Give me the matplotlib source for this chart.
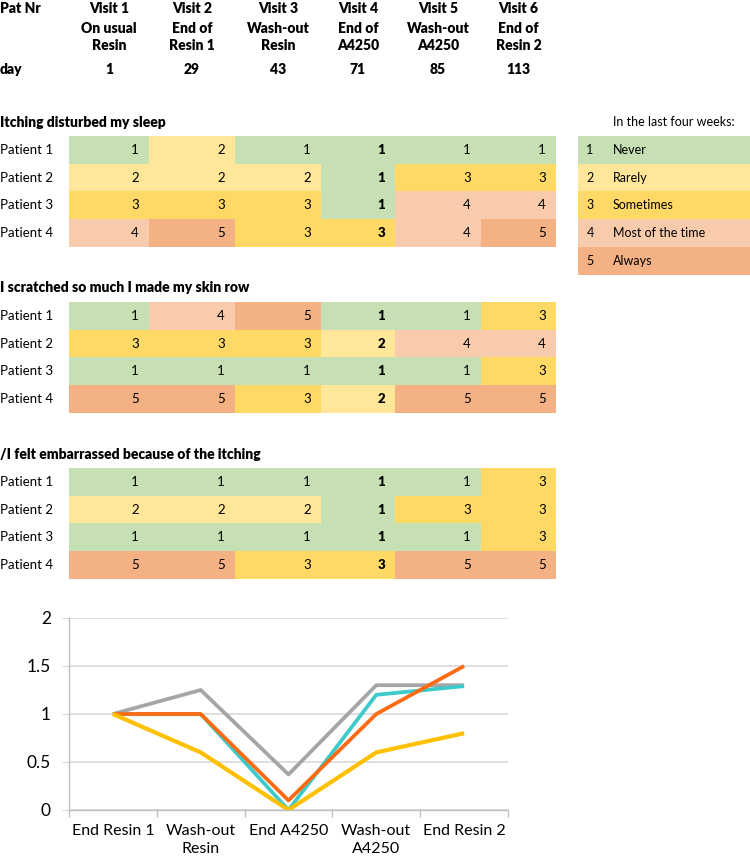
import numpy as np
import matplotlib
matplotlib.use("Agg")
import matplotlib.pyplot as plt
from matplotlib.colors import ListedColormap

plt.rcParams['font.family'] = ['Lato', 'DejaVu Sans']

# ---------------- data ----------------
visits = ["Visit 1", "Visit 2", "Visit 3", "Visit 4", "Visit 5", "Visit 6"]
phases = ["On usual\nResin", "End of\nResin 1", "Wash-out\nResin", "End of\nA4250", "Wash-out\nA4250", "End of\nResin 2"]
days = [1, 29, 43, 71, 85, 113]
patients = ["Patient 1", "Patient 2", "Patient 3", "Patient 4"]

q_titles = ["Itching disturbed my sleep",
            "I scratched so much I made my skin row",
            "/I felt embarrassed because of the itching"]
sleep = [[1, 2, 1, 1, 1, 1],
         [2, 2, 2, 1, 3, 3],
         [3, 3, 3, 1, 4, 4],
         [4, 5, 3, 3, 4, 5]]
scratch = [[1, 4, 5, 1, 1, 3],
           [3, 3, 3, 2, 4, 4],
           [1, 1, 1, 1, 1, 3],
           [5, 5, 3, 2, 5, 5]]
embarrassed = [[1, 1, 1, 1, 1, 3],
               [2, 2, 2, 1, 3, 3],
               [1, 1, 1, 1, 1, 3],
               [5, 5, 3, 3, 5, 5]]

legend_title = "In the last four weeks:"
scale_values = [1, 2, 3, 4, 5]
scale_labels = ["Never", "Rarely", "Sometimes", "Most of the time", "Always"]

chart_categories = ["End Resin 1", "Wash-out\nResin", "End A4250", "Wash-out\nA4250", "End Resin 2"]
series_gray = [1.0, 1.25, 0.37, 1.3, 1.3]
series_cyan = [1.0, 1.0, 0.0, 1.2, 1.29]
series_orange = [1.0, 1.0, 0.1, 1.0, 1.5]
series_yellow = [1.0, 0.6, 0.0, 0.6, 0.8]

# ---------------- styles / layout ----------------
scale_colors = ["#C6E0B4", "#FFE699", "#FFD966", "#F8CBAD", "#F4B183"]
cmap = ListedColormap(scale_colors)
col_edges = [69, 149, 235, 321, 395, 481, 556]
row_h = 27.7
table_tops = [136, 302, 468]
FS = 9.5
FSB = 10
BW = 800

W, H = 750, 857
fig = plt.figure(figsize=(W / 100, H / 100), dpi=100)
ax0 = fig.add_axes([0, 0, 1, 1])
ax0.set_xlim(0, W)
ax0.set_ylim(H, 0)
ax0.axis("off")

col_centers = [(col_edges[i] + col_edges[i + 1]) / 2 for i in range(len(visits))]

# header
ax0.text(0, 8, "Pat Nr", fontsize=FSB, fontweight=BW, ha="left", va="center")
ax0.text(0, 69, "day", fontsize=FSB, fontweight=BW, ha="left", va="center")
for cx, v, p, d in zip(col_centers, visits, phases, days):
    ax0.text(cx, 8, v, fontsize=FSB, fontweight=BW, ha="center", va="center")
    ax0.text(cx, 37, p, fontsize=FSB, fontweight=BW, ha="center", va="center", linespacing=1.3)
    ax0.text(cx, 69, str(d), fontsize=FSB, fontweight=BW, ha="center", va="center")

# tables
for title, data, top in zip(q_titles, [sleep, scratch, embarrassed], table_tops):
    arr = np.array(data)
    ys = top + row_h * np.arange(len(patients) + 1)
    ax0.pcolormesh(col_edges, ys, arr, cmap=cmap, vmin=0.5, vmax=5.5, shading="flat")
    ax0.text(0, top - 14, title, fontsize=FSB, fontweight=BW, ha="left", va="center")
    for r, pname in enumerate(patients):
        yc = top + row_h * (r + 0.5)
        ax0.text(0, yc, pname, fontsize=FS, ha="left", va="center")
        for c in range(len(visits)):
            ax0.text(col_edges[c + 1] - 10, yc, str(arr[r, c]), fontsize=FS,
                     fontweight=BW if c == 3 else "normal", ha="right", va="center")

# legend
lg_x = [578, 750]
lg_top = table_tops[0]
ys = lg_top + row_h * np.arange(len(scale_values) + 1)
ax0.pcolormesh(lg_x, ys, np.array(scale_values).reshape(-1, 1), cmap=cmap, vmin=0.5, vmax=5.5, shading="flat")
ax0.text(613, lg_top - 14, legend_title, fontsize=FS - 0.5, ha="left", va="center")
for i, (v, lab) in enumerate(zip(scale_values, scale_labels)):
    yc = lg_top + row_h * (i + 0.5)
    ax0.text(590, yc, str(v), fontsize=FS - 0.5, ha="center", va="center")
    ax0.text(613, yc, lab, fontsize=FS - 0.5, ha="left", va="center")

# line chart
x0, x1, y0, y1 = 69, 508, 618, 810
ax = fig.add_axes([x0 / W, (H - y1) / H, (x1 - x0) / W, (y1 - y0) / H])
xs = np.arange(len(chart_categories))
ax.plot(xs, series_gray, color="#A5A5A5", lw=2.7, solid_capstyle="butt", zorder=3)
ax.plot(xs, series_cyan, color="#3CCACA", lw=2.7, solid_capstyle="butt", zorder=4)
ax.plot(xs, series_orange, color="#FF6A13", lw=2.7, solid_capstyle="butt", zorder=5)
ax.plot(xs, series_yellow, color="#FFC000", lw=3.0, solid_capstyle="butt", zorder=6)
ax.set_xlim(-0.5, len(chart_categories) - 0.5)
ax.set_ylim(0, 2)
ax.set_yticks([0, 0.5, 1, 1.5, 2])
ax.set_yticklabels(["0", "0.5", "1", "1.5", "2"])
ax.yaxis.grid(True, color="#D9D9D9", lw=1.2)
ax.set_axisbelow(True)
ax.set_xticks(np.arange(-0.5, len(chart_categories)), minor=False)
ax.set_xticklabels([])
ax.set_xticks(xs, minor=True)
ax.set_xticklabels(chart_categories, minor=True, fontsize=11.5, linespacing=1.35)
ax.tick_params(axis="x", which="minor", length=0, pad=10)
ax.tick_params(axis="x", which="major", length=5, color="#BFBFBF", width=1)
ax.tick_params(axis="y", length=5, color="#D9D9D9", labelsize=12.5, pad=8)
for s in ["top", "right"]:
    ax.spines[s].set_visible(False)
ax.spines["left"].set_color("#BFBFBF")
ax.spines["bottom"].set_color("#BFBFBF")
ax.spines["left"].set_linewidth(1)
ax.spines["bottom"].set_linewidth(1)

fig.savefig("out.png", dpi=100)
